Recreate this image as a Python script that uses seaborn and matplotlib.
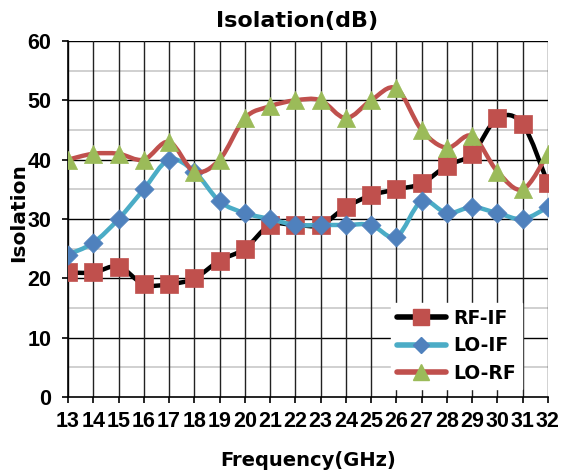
import numpy as np
import pandas as pd
import matplotlib
matplotlib.use("Agg")
import matplotlib.pyplot as plt
import seaborn as sns
from matplotlib.path import Path
from matplotlib.patches import PathPatch
from matplotlib.lines import Line2D

# ─── Data ────────────────────────────────────────────────────────────────
freq = list(range(13, 33))
rf_if = [21, 21, 22, 19, 19, 20, 23, 25, 29, 29, 29, 32, 34, 35, 36, 39, 41, 47, 46, 36]
lo_if = [24, 26, 30, 35, 40, 38, 33, 31, 30, 29, 29, 29, 29, 27, 33, 31, 32, 31, 30, 32]
lo_rf = [40, 41, 41, 40, 43, 38, 40, 47, 49, 50, 50, 47, 50, 52, 45, 42, 44, 38, 35, 41]
series_names = ["RF-IF", "LO-IF", "LO-RF"]
y_ticks = [0, 10, 20, 30, 40, 50, 60]

df = pd.DataFrame({"freq": freq, "RF-IF": rf_if, "LO-IF": lo_if, "LO-RF": lo_rf})

styles = {
    "RF-IF": dict(line="#000000", face="#C0504D", marker="s", size=150, leg=12),
    "LO-IF": dict(line="#4BACC6", face="#4F81BD", marker="D", size=95, leg=8),
    "LO-RF": dict(line="#C0504D", face="#9BBB59", marker="^", size=170, leg=12),
}


def smooth_path(x, y):
    """Excel-like smoothed line: cubic Bezier segments through the points."""
    pts = np.column_stack([x, y]).astype(float)
    verts = [pts[0]]
    codes = [Path.MOVETO]
    n = len(pts)
    for i in range(n - 1):
        p0 = pts[i - 1] if i > 0 else pts[i]
        p1 = pts[i]
        p2 = pts[i + 1]
        p3 = pts[i + 2] if i + 2 < n else pts[i + 1]
        c1 = p1 + (p2 - p0) / 6.0
        c2 = p2 - (p3 - p1) / 6.0
        verts += [c1, c2, p2]
        codes += [Path.CURVE4] * 3
    return Path(verts, codes)


sns.set_style("white")
plt.rcParams["font.family"] = ["DejaVu Sans"]
plt.rcParams["font.weight"] = "bold"
plt.rcParams["text.color"] = "black"
plt.rcParams["axes.labelcolor"] = "black"
plt.rcParams["xtick.color"] = "black"
plt.rcParams["ytick.color"] = "black"

fig = plt.figure(figsize=(5.68, 4.75), dpi=100)
ax = fig.add_axes([0.1197, 0.164, 0.845, 0.7497])

# grid
for v in range(5, 60, 10):
    ax.axhline(v, color="#C8C8C8", lw=1.2, zorder=0)
for v in y_ticks[1:]:
    ax.axhline(v, color="black", lw=1.0, zorder=0.5)
for f in freq:
    ax.axvline(f, color="#222222", lw=1.0, zorder=0.5)

for z, name in enumerate(series_names):
    st = styles[name]
    patch = PathPatch(smooth_path(df["freq"], df[name]), facecolor="none",
                      edgecolor=st["line"], lw=3.2, zorder=2 + 2 * z,
                      capstyle="round", joinstyle="round")
    ax.add_patch(patch)
    sns.scatterplot(data=df, x="freq", y=name, ax=ax, marker=st["marker"],
                    s=st["size"], color=st["face"], edgecolor=st["face"],
                    linewidth=0.5, zorder=3 + 2 * z, legend=False)

tick_font = {"family": "Liberation Sans", "size": 15.5, "weight": "bold"}
ax.set_xlim(13, 32)
ax.set_ylim(0, 60)
ax.set_xticks(freq)
ax.set_xticklabels([str(f) for f in freq], fontdict=tick_font)
ax.set_yticks(y_ticks)
ax.set_yticklabels([str(v) for v in y_ticks], fontdict=tick_font)
ax.tick_params(axis="both", direction="out", length=4, width=1.2, color="black",
               left=True, bottom=True)
ax.tick_params(axis="x", pad=6)
ax.tick_params(axis="y", pad=8)
for side in ["top", "right"]:
    ax.spines[side].set_visible(False)
for side in ["left", "bottom"]:
    ax.spines[side].set_color("black")
    ax.spines[side].set_linewidth(1.2)

ax.set_title("Isolation(dB)", fontsize=16, fontweight="bold", pad=10, x=0.477)
ax.set_xlabel("Frequency(GHz)", fontsize=14, fontweight="bold", labelpad=14)
ax.set_ylabel("Isolation", fontsize=14.5, fontweight="bold", labelpad=0)
ax.yaxis.set_label_coords(-0.083, 0.517)

handles = [Line2D([0], [0], color=styles[n]["line"], lw=4, marker=styles[n]["marker"],
                  markersize=styles[n]["leg"],
                  markerfacecolor=styles[n]["face"], markeredgecolor=styles[n]["face"])
           for n in series_names]
leg = fig.legend(handles, series_names, loc="upper left",
                 bbox_to_anchor=(382 / 568, 1 - 294 / 475), frameon=True,
                 fancybox=False, framealpha=1, edgecolor="white",
                 prop={"size": 13.5, "weight": "bold"}, handlelength=2.6,
                 labelspacing=0.45, borderpad=0.3, handletextpad=0.4)
leg.set_zorder(20)

fig.savefig("out.png", dpi=100)
